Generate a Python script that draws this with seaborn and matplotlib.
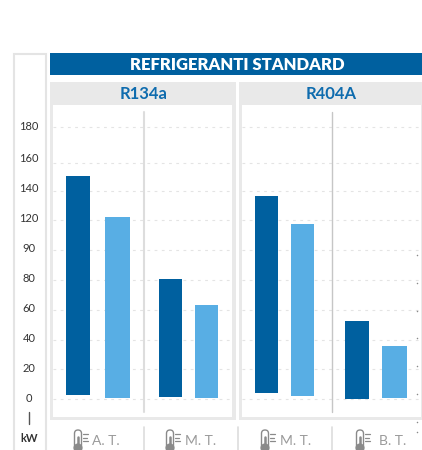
import numpy as np
import pandas as pd
import matplotlib
matplotlib.use("Agg")
import matplotlib.pyplot as plt
from matplotlib.patches import Rectangle, FancyBboxPatch, Circle
import seaborn as sns

# ---- data ----
title = "REFRIGERANTI STANDARD"
panels = ["R134a", "R404A"]
categories = ["A. T.", "M. T.", "M. T.", "B. T."]
tick_values = [0, 20, 40, 60, 80, 100, 120, 140, 160, 180]
tick_labels = ["0", "20", "40", "60", "80", "90", "120", "140", "160", "180"]
r134a_top = [150.7, 122, 81, 63.3]
r134a_bottom = [2.5, 0.5, 1, 0.5]
r404a_top = [136.8, 117.5, 52.5, 35.6]
r404a_bottom = [4, 2, -0.2, 0.5]
unit = "kW"

# ---- layout / style (pixels) ----
W, H = 422, 450
DARK, LIGHT = "#00609F", "#58AEE4"
GREY = "#E9E9E9"
tick_px = [398.7, 369.3, 339.5, 310, 280, 250, 220.3, 191.3, 162.7, 127.3]
label_px = [398, 368, 338, 308, 278, 248, 218.3, 189, 159, 126.3]
bar_x = [[66, 105, 159, 195], [255, 291, 345, 382]]
bar_w = [[24, 25, 23, 23], [23, 23, 24, 25]]
panel_x = [(50, 236), (239, 422)]
inner_x = [(53, 232), (242, 421)]
sep_x = [144, 332.3]
sep_style = [("#DDDDDD", 1.5), ("#C6C6C6", 1.0)]
text_x = [92, 185, 280, 379]
thermo_x = [78, 170, 265, 360]
cat_sep = [144, 238, 332]
speck_y = [255, 283, 311, 338, 366, 394, 422, 432]

sns.set_theme(style="white")
plt.rcParams["font.family"] = ["Lato", "DejaVu Sans"]

fig = plt.figure(figsize=(W / 100, H / 100), dpi=100, facecolor="white")

def px_axes(x0, y0, x1, y1, **kw):
    return fig.add_axes([x0 / W, 1 - y1 / H, (x1 - x0) / W, (y1 - y0) / H], **kw)

bg = px_axes(0, 0, W, H, zorder=0)
bg.set_xlim(0, W); bg.set_ylim(H, 0); bg.axis("off")

# y strip
bg.add_patch(Rectangle((14, 54), 31.5, 400, fc="white", ec="#E4E4E4", lw=1.5))
for lab, y in zip(tick_labels, label_px):
    bg.text(29, y, lab, ha="center", va="center", fontsize=8, color="#333333")
bg.plot([29, 29], [412, 424], color="#555555", lw=1)
bg.text(29, 438, unit, ha="center", va="center", fontsize=8, color="#333333", fontweight="bold")

# header
bg.add_patch(Rectangle((50, 53), 372, 22, fc=DARK, ec="none"))
bg.text(237.5, 64.5, title, ha="center", va="center", fontsize=12, color="white", fontweight="heavy")

# panels
for (x0, x1), name in zip(panel_x, panels):
    bg.add_patch(Rectangle((x0, 82), x1 - x0, 337.5, fc=GREY, ec="none"))
    bg.text((x0 + x1) / 2 + (0.5 if name == "R134a" else 1), 94, name, ha="center", va="center",
            fontsize=12, color="#0F6CAE", fontweight="bold")

# category strip
for x in cat_sep:
    bg.plot([x, x], [427, 452], color="#DDDDDD", lw=1.2)

def thermometer(cx):
    bg.add_patch(FancyBboxPatch((cx - 3.5, 430), 7, 20, boxstyle="round,pad=0,rounding_size=3.5",
                                fc="white", ec="#8A8A8A", lw=1))
    bg.plot([cx, cx], [437, 447], color="#8A8A8A", lw=1.8)
    bg.add_patch(Circle((cx, 448), 4.6, fc="#8A8A8A", ec="none"))
    for y, l in [(434, 4.5), (437.5, 3.5), (441, 4.5)]:
        bg.plot([cx + 5, cx + 5 + l], [y, y], color="#8A8A8A", lw=0.9)

for cat, tx, cx in zip(categories, text_x, thermo_x):
    bg.text(tx, 441, cat, ha="left", va="center", fontsize=10, color="#9A9A9A")
    thermometer(cx)

# y scale: the source axis is piecewise
fwd_v = np.array([-40.0] + tick_values + [220.0])
fwd_p = -np.array([398.7 + 40 * 1.47] + tick_px + [127.3 - 40 * 1.77])
def forward(v):
    return np.interp(v, fwd_v, fwd_p)
def inverse(p):
    return np.interp(p, fwd_p, fwd_v)

tops = [r134a_top, r404a_top]
bottoms = [r134a_bottom, r404a_bottom]
colors = [DARK, LIGHT, DARK, LIGHT]

for k, (left, right) in enumerate(inner_x):
    ax = px_axes(left, 105, right, 416.5, zorder=2, facecolor="white")
    for j in range(4):
        df = pd.DataFrame({"x": [bar_x[k][j] + bar_w[k][j] / 2],
                           "y": [tops[k][j] - bottoms[k][j]]})
        sns.barplot(data=df, x="x", y="y", native_scale=True, width=bar_w[k][j],
                    color=colors[j], saturation=1, errorbar=None,
                    bottom=bottoms[k][j], ax=ax, zorder=3, linewidth=0)
    ax.set_yscale("function", functions=(forward, inverse))
    ax.set_xlim(left, right)
    ax.set_ylim(inverse(-416.5), inverse(-105))
    ax.set_yticks(tick_values)
    ax.set_yticks([], minor=True)
    ax.set_xticks([])
    ax.set_xlabel(""); ax.set_ylabel("")
    ax.tick_params(left=False, labelleft=False, bottom=False, labelbottom=False)
    ax.grid(axis="y", color="#E4E4E4", lw=0.8, ls=(0, (2.5, 4)), zorder=1)
    ax.set_axisbelow(True)
    sns.despine(ax=ax, left=True, bottom=True)
    ax.plot([sep_x[k]] * 2, [inverse(-411.5), inverse(-112)],
            color=sep_style[k][0], lw=sep_style[k][1], zorder=2)

# small specks along the right edge
top = px_axes(0, 0, W, H, zorder=5)
top.set_xlim(0, W); top.set_ylim(H, 0); top.axis("off"); top.patch.set_alpha(0)
top.scatter([416.5] * len(speck_y), speck_y, s=1.2, color="#8A8A8A", linewidths=0)

fig.savefig("out.png", dpi=100)
